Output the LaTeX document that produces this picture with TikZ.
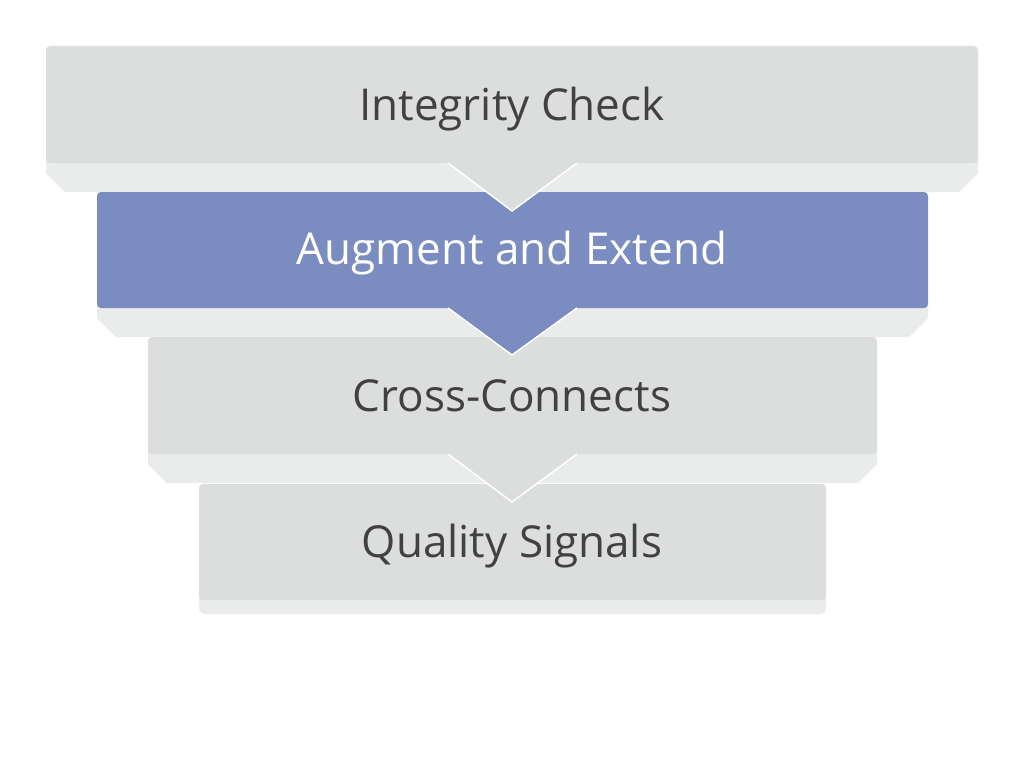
\documentclass[tikz,border=0pt]{standalone}
\usepackage{fontspec}
\setmainfont{Open Sans}
\definecolor{bargray}{HTML}{DCDDDD}
\definecolor{lipgray}{HTML}{EAEBEB}
\definecolor{barblue}{HTML}{7B8CC0}
\definecolor{textgray}{HTML}{414141}
\tikzset{
  steplabel/.style={anchor=base, font=\fontsize{44}{52}\selectfont, text=textgray, inner sep=0pt},
  vline/.style={draw=white, line width=1.5pt}
}
\begin{document}
\begin{tikzpicture}[x=1pt, y=-1pt]
% Background
\fill[white] (0,0) rectangle (1024,768);

% Integrity Check
\fill[lipgray] (46,158) -- (46,173) -- (65,192) -- (959,192) -- (978,173) -- (978,158) -- cycle;
\fill[bargray, rounded corners=4pt] (46,46) rectangle (978,163);
\node[steplabel] (integrity) at (512,120) {Integrity Check};

% Augment and Extend
\fill[lipgray] (97,302) -- (97,318) -- (116,337) -- (909,337) -- (928,318) -- (928,302) -- cycle;
\fill[barblue, rounded corners=4pt] (97,192) rectangle (928,308);
\fill[bargray] (448,162) -- (512,211) -- (577,162) -- cycle;
\draw[vline] (448,163) -- (512,211) -- (577,163);
\node[steplabel, text=white] (augment) at (512,264) {Augment and Extend};

% Cross-Connects
\fill[lipgray] (148,448) -- (148,464) -- (167,483) -- (858,483) -- (877,464) -- (877,448) -- cycle;
\fill[bargray, rounded corners=4pt] (148,337) rectangle (877,454);
\fill[barblue] (448,307) -- (512,355) -- (577,307) -- cycle;
\draw[vline] (448,308) -- (512,355) -- (577,308);
\node[steplabel] (cross) at (512,411) {Cross-Connects};

% Quality Signals
\fill[lipgray, rounded corners=6pt] (199,590) rectangle (826,614);
\fill[bargray, rounded corners=4pt] (199,484) rectangle (826,600);
\fill[bargray] (448,453) -- (512,502) -- (577,453) -- cycle;
\draw[vline] (448,454) -- (512,502) -- (577,454);
\node[steplabel] (quality) at (512,557) {Quality Signals};
\end{tikzpicture}
\end{document}
